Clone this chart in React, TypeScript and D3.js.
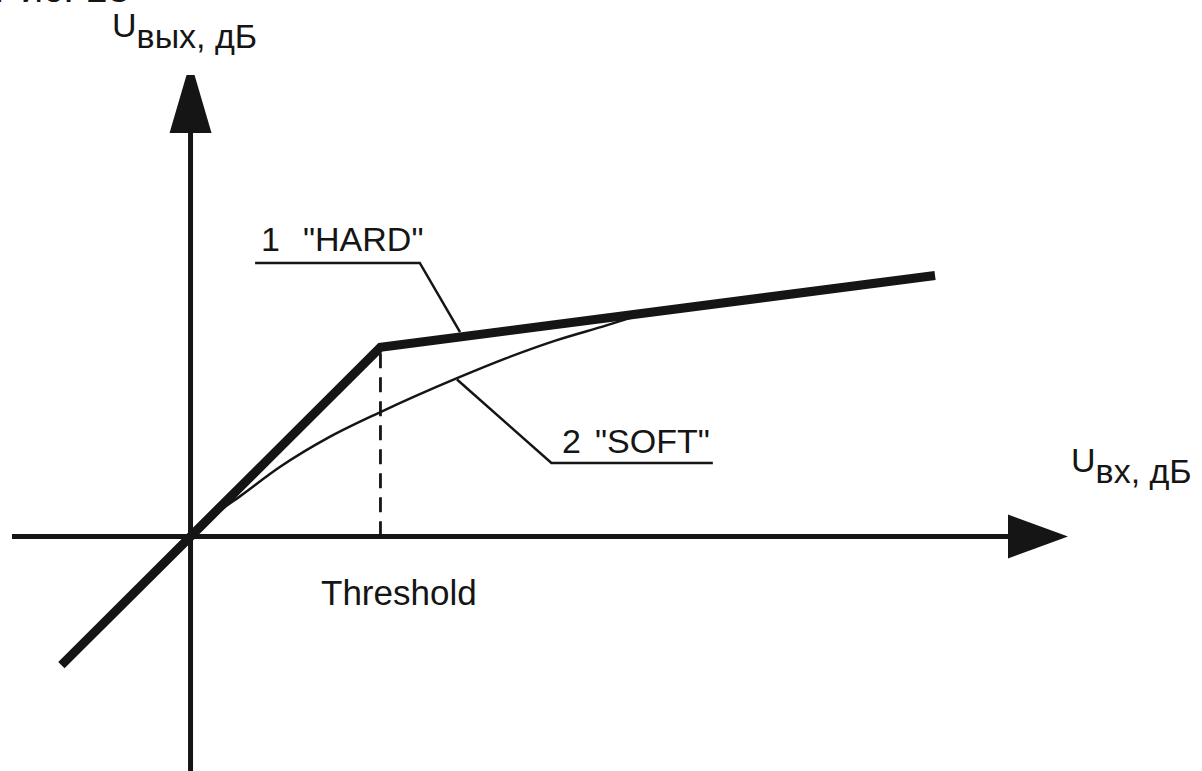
import React from "react";
import * as d3 from "d3";

// Compressor transfer characteristic: output level vs input level (dB)
const xDomain = [-9.4, 46.2];
const yDomain = [-12.4, 24.4];
const threshold = 10;

// Curve 1: hard knee (ratio 1:1 below threshold, compressed above)
const hardCurve = [
  { x: -6.8, y: -6.8 },
  { x: 0, y: 0 },
  { x: 10, y: 10 },
  { x: 39.2, y: 13.8 },
];

// Curve 2: soft knee, merging into the hard curve
const softCurve = [
  { x: 0, y: 0 },
  { x: 1.4, y: 1.25 },
  { x: 2.6, y: 2.12 },
  { x: 4.7, y: 3.67 },
  { x: 7.3, y: 5.25 },
  { x: 10, y: 6.58 },
  { x: 14, y: 8.36 },
  { x: 16.6, y: 9.42 },
  { x: 19.25, y: 10.37 },
  { x: 21.9, y: 11.16 },
  { x: 24, y: 11.82 },
];

// Leader lines for the curve labels
const hardLeader = [
  { x: 3.4, y: 14.46 },
  { x: 12.07, y: 14.46 },
  { x: 14.19, y: 10.8 },
];
const softLeader = [
  { x: 27.5, y: 3.89 },
  { x: 19.0, y: 3.89 },
  { x: 14.03, y: 8.3 },
];

const labels = {
  hard: ["1", '"HARD"'],
  soft: ["2", '"SOFT"'],
  threshold: "Threshold",
  yMain: "U",
  ySub: "вых, дБ",
  xMain: "U",
  xSub: "вх, дБ",
  caption: "Рис. 13",
};

const W = 1202;
const H = 771;
const FONT = "'Liberation Sans', Arial, Helvetica, sans-serif";
const INK = "#151515";

export default function App() {
  const x = d3.scaleLinear().domain(xDomain).range([12, 1068]);
  const y = d3.scaleLinear().domain(yDomain).range([771, 75]);

  const line = d3
    .line<{ x: number; y: number }>()
    .x((d) => x(d.x))
    .y((d) => y(d.y));
  const smooth = d3
    .line<{ x: number; y: number }>()
    .x((d) => x(d.x))
    .y((d) => y(d.y))
    .curve(d3.curveMonotoneX);

  const x0 = x(0);
  const y0 = y(0);
  const xEnd = x(xDomain[1]);
  const yTop = y(yDomain[1]);

  // arrowheads
  const vArrow = `M${x0 - 4},${yTop} L${x0 + 4},${yTop} L${x0 + 21},${yTop + 58} L${x0 - 21},${yTop + 58} Z`;
  const hArrow = `M${xEnd},${y0} L${xEnd - 60},${y0 - 22} L${xEnd - 60},${y0 + 22} Z`;

  const kneeY = y(threshold);

  return (
    <svg
      width={W}
      height={H}
      style={{ position: "absolute", left: 0, top: 0, background: "#fff" }}
      fontFamily={FONT}
    >
      <rect x={0} y={0} width={W} height={H} fill="#fff" />

      {/* caption running off the top edge */}
      <text x={-6} y={2} fontSize={40} fill={INK}>
        {labels.caption}
      </text>

      {/* axes */}
      <line x1={x(xDomain[0])} y1={y0} x2={xEnd - 50} y2={y0} stroke={INK} strokeWidth={5} />
      <path d={hArrow} fill={INK} />
      <line x1={x0} y1={y(yDomain[0])} x2={x0} y2={yTop + 50} stroke={INK} strokeWidth={5} />
      <path d={vArrow} fill={INK} />

      {/* threshold marker */}
      <line
        x1={x(threshold)}
        y1={kneeY + 6}
        x2={x(threshold)}
        y2={y0}
        stroke={INK}
        strokeWidth={2.8}
        strokeDasharray="15 9"
      />

      {/* curves */}
      <path d={smooth(softCurve) ?? ""} fill="none" stroke={INK} strokeWidth={2.5} />
      <path
        d={line(hardCurve) ?? ""}
        fill="none"
        stroke={INK}
        strokeWidth={9}
        strokeLinejoin="miter"
      />

      {/* leaders */}
      <path d={line(hardLeader) ?? ""} fill="none" stroke={INK} strokeWidth={2.5} />
      <path d={line(softLeader) ?? ""} fill="none" stroke={INK} strokeWidth={2.5} />

      {/* curve labels */}
      <text y={251} fontSize={34} fill={INK}>
        <tspan x={261}>{labels.hard[0]}</tspan>
        <tspan x={303}>{labels.hard[1]}</tspan>
      </text>
      <text y={453} fontSize={34} fill={INK}>
        <tspan x={562}>{labels.soft[0]}</tspan>
        <tspan x={595}>{labels.soft[1]}</tspan>
      </text>

      <text x={321} y={605} fontSize={35} fill={INK}>
        {labels.threshold}
      </text>

      {/* axis titles */}
      <text x={112} y={37} fontSize={34} fill={INK}>
        {labels.yMain}
        <tspan dy={11}>{labels.ySub}</tspan>
      </text>
      <text x={1071} y={472} fontSize={34} fill={INK}>
        {labels.xMain}
        <tspan dy={11}>{labels.xSub}</tspan>
      </text>
    </svg>
  );
}
